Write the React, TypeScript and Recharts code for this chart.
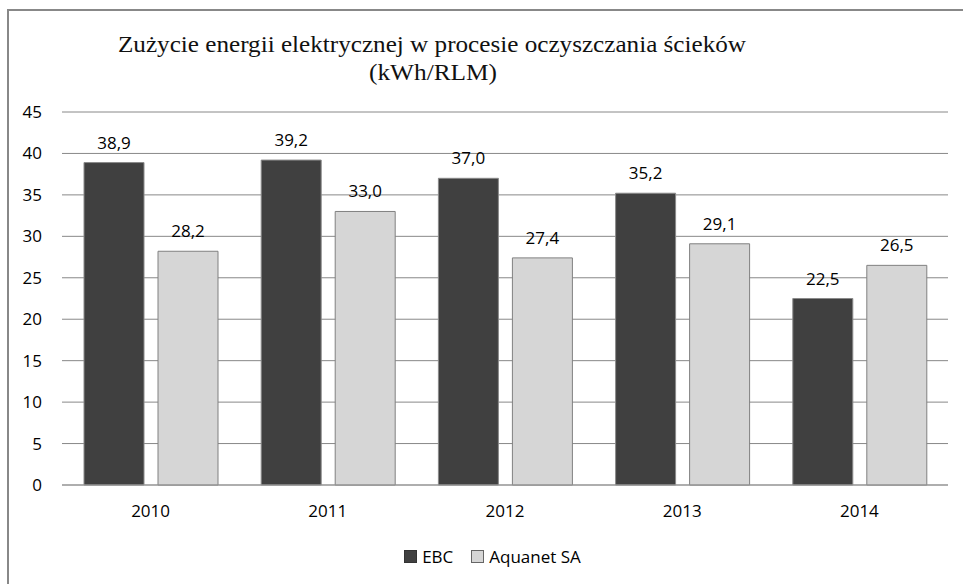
import React from 'react';
import { BarChart, Bar, XAxis, YAxis, CartesianGrid, LabelList } from 'recharts';

const years = ['2010', '2011', '2012', '2013', '2014'];
const ebc = [38.9, 39.2, 37.0, 35.2, 22.5];
const aquanet = [28.2, 33.0, 27.4, 29.1, 26.5];
const yTicks = [0, 5, 10, 15, 20, 25, 30, 35, 40, 45];

const titleLine1 = 'Zużycie energii elektrycznej w procesie oczyszczania ścieków';
const titleLine2 = '(kWh/RLM)';

const FONT = '"Open Sans", "Noto Sans", sans-serif';

const fmt = (v: number) => v.toFixed(1).replace('.', ',');

const App: React.FC = () => {
  const data = years.map((year, i) => ({ year, ebc: ebc[i], aquanet: aquanet[i] }));

  return (
    <div style={{ position: 'fixed', left: 0, top: 0, width: 963, height: 584, background: '#fff', overflow: 'hidden' }}>
      {/* frame */}
      <div
        style={{
          position: 'absolute',
          left: 7,
          top: 9,
          width: 970,
          height: 600,
          borderTop: '2px solid #888',
          borderLeft: '2px solid #888',
        }}
      />
      <svg width={963} height={100} style={{ position: 'absolute', left: 0, top: 0 }}>
        <text
          x={118}
          y={52}
          fontFamily='"Liberation Serif", serif'
          fontSize={24}
          textLength={628}
          lengthAdjust="spacingAndGlyphs"
          fill="#111"
        >
          {titleLine1}
        </text>
        <text
          x={369}
          y={80}
          fontFamily='"Liberation Serif", serif'
          fontSize={24}
          textLength={128}
          lengthAdjust="spacingAndGlyphs"
          fill="#111"
        >
          {titleLine2}
        </text>
      </svg>
      <div style={{ position: 'absolute', left: 0, top: 0 }}>
        <BarChart
          width={963}
          height={584}
          data={data}
          margin={{ top: 112, right: 15, left: 12, bottom: 69 }}
          barSize={60}
          barGap={14}
        >
          <CartesianGrid vertical={false} stroke="#888" />
          <XAxis
            dataKey="year"
            axisLine={{ stroke: '#999' }}
            tickLine={false}
            tickMargin={14}
            height={30}
            tick={{ fill: '#000', fontSize: 17, fontFamily: FONT }}
          />
          <YAxis
            domain={[0, 45]}
            ticks={yTicks}
            width={50}
            axisLine={false}
            tickLine={false}
            tickMargin={14}
            interval={0}
            tick={{ fill: '#000', fontSize: 17, fontFamily: FONT }}
          />
          <Bar dataKey="ebc" name="EBC" fill="#404040" stroke="#8a8a8a" strokeWidth={1} isAnimationActive={false}>
            <LabelList
              dataKey="ebc"
              position="top"
              offset={14}
              formatter={(v: any) => fmt(Number(v))}
              style={{ fill: '#000', fontSize: 17, fontFamily: FONT }}
            />
          </Bar>
          <Bar dataKey="aquanet" name="Aquanet SA" fill="#d6d6d6" stroke="#808080" strokeWidth={1} isAnimationActive={false}>
            <LabelList
              dataKey="aquanet"
              position="top"
              offset={14}
              formatter={(v: any) => fmt(Number(v))}
              style={{ fill: '#000', fontSize: 17, fontFamily: FONT }}
            />
          </Bar>
        </BarChart>
      </div>
      {/* legend */}
      <div
        style={{
          position: 'absolute',
          left: 0,
          top: 545,
          width: 963,
          display: 'flex',
          justifyContent: 'center',
          alignItems: 'center',
          fontFamily: FONT,
          fontSize: 17,
          color: '#000',
          paddingLeft: 22,
          boxSizing: 'border-box',
        }}
      >
        <span style={{ width: 11, height: 11, background: '#404040', border: '1px solid #333', marginRight: 5 }} />
        <span style={{ marginRight: 18 }}>EBC</span>
        <span style={{ width: 11, height: 11, background: '#d6d6d6', border: '1px solid #666', marginRight: 5 }} />
        <span>Aquanet SA</span>
      </div>
    </div>
  );
};

export default App;
